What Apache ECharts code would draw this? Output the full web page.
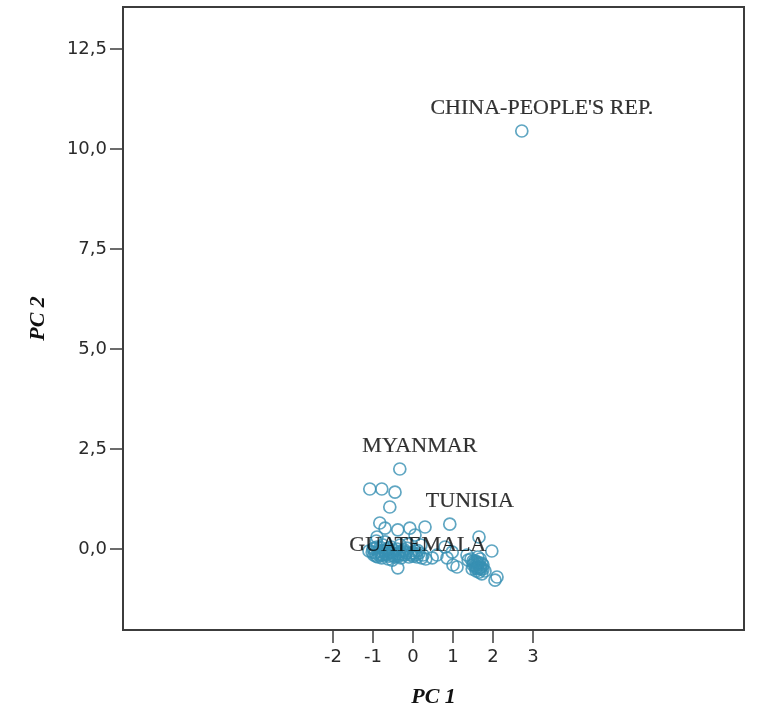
<!DOCTYPE html>
<html>
<head>
<meta charset="utf-8">
<script src="https://cdn.jsdelivr.net/npm/echarts@6/dist/echarts.min.js"></script>
<style>
  html, body { margin: 0; padding: 0; background: #ffffff; }
  #chart { width: 762px; height: 715px; }
</style>
</head>
<body>
<div id="chart"></div>
<script>
// Named countries (drawn with a text label)
const labeledNames = ["CHINA-PEOPLE'S REP.", "MYANMAR", "TUNISIA", "GUATEMALA"];
const labeledPc1 = [2.72, -0.33, 0.92, -0.38];
const labeledPc2 = [10.45, 2.00, 0.62, -0.47];

// Remaining countries: PC 1 / PC 2 scores
const otherPc1 = [
  -1.08, -0.78, -0.45, -0.58,
  -0.83, -0.70, -0.38, -0.08, 0.30, 0.05, -0.90,
  -1.00, -0.95, -0.90, -0.85, -0.80, -0.75, -0.70, -0.65, -0.60, -0.55,
  -0.50, -0.45, -0.40, -0.35, -0.30, -0.25, -0.20, -0.15, -0.10, -0.05,
  0.00, 0.05, 0.10, 0.15, -0.62, -0.78, -0.88, -0.98, -1.10, -0.52,
  -0.32, -0.12, -0.70, -0.92, 0.20, 0.25, 0.32, 0.22, 0.48,
  -1.02, -0.97, -0.92, -0.87, -0.82, -0.77, -0.72, -0.67, -0.62, -0.57,
  -0.52, -0.47, -0.42, -0.37, -0.32, -0.27, -0.22, -0.17, -0.07, 0.02,
  0.08, 0.12, -0.60, -0.80, -0.45, -0.20,
  1.65, 1.97, 0.80, 0.98, 1.35, 0.85, 1.00, 1.10, 1.38, 2.05, 2.10,
  1.45, 1.50, 1.55, 1.60, 1.65, 1.70, 1.75, 1.58, 1.48, 1.68, 1.80, 1.62, 1.72, 0.60,
  1.52, 1.57, 1.62, 1.67, 1.72, 1.55, 1.65, 1.60, 1.70, 1.50, 1.75, 1.63
];
const otherPc2 = [
  1.50, 1.50, 1.42, 1.05,
  0.65, 0.52, 0.48, 0.52, 0.55, 0.35, 0.30,
  0.00, -0.10, 0.05, -0.15, -0.05, 0.10, -0.12, -0.02, -0.18, 0.05,
  -0.10, -0.20, 0.00, -0.12, -0.22, -0.05, -0.15, 0.02, -0.20, -0.10,
  -0.18, -0.05, -0.20, -0.10, -0.25, -0.22, -0.20, -0.15, -0.05, -0.28,
  0.10, 0.12, 0.18, 0.20, 0.10, -0.15, -0.25, -0.22, -0.22,
  -0.08, 0.02, -0.18, -0.06, 0.04, -0.16, -0.04, -0.14, 0.02, -0.08,
  -0.16, -0.04, -0.12, -0.18, -0.06, -0.14, -0.02, -0.10, -0.14, -0.10,
  -0.14, -0.04, -0.10, -0.12, -0.15, -0.08,
  0.30, -0.05, 0.05, -0.08, -0.15, -0.22, -0.40, -0.45, -0.28, -0.78, -0.70,
  -0.25, -0.40, -0.30, -0.45, -0.35, -0.50, -0.40, -0.55, -0.50, -0.25, -0.55, -0.20, -0.62, -0.15,
  -0.35, -0.48, -0.38, -0.48, -0.36, -0.42, -0.58, -0.32, -0.45, -0.30, -0.50, -0.50
];

// Tick positions shown on each axis
const xTicks = [-2, -1, 0, 1, 2, 3];
const yTicks = [0, 2.5, 5, 7.5, 10, 12.5];

const markColor = '#3790b3';
const frameColor = '#3c3c3c';
const otherData = otherPc1.map((v, i) => [v, otherPc2[i]]);
const labeledData = labeledNames.map((n, i) => ({ name: n, value: [labeledPc1[i], labeledPc2[i]] }));

const chart = echarts.init(document.getElementById('chart'), null, { renderer: 'canvas' });

const axisLabelFont = { fontFamily: 'DejaVu Sans', fontSize: 18, color: '#2a2a2a' };
const nameFont = { fontFamily: 'Liberation Serif', fontSize: 22, fontWeight: 'bold', fontStyle: 'italic', color: '#111' };
const edgeLine = { show: true, onZero: false, lineStyle: { color: frameColor, width: 2 } };
const tickStyle = { color: frameColor, width: 1.5 };

chart.setOption({
  animation: false,
  backgroundColor: '#ffffff',
  grid: {
    left: 123, top: 7, right: 18, bottom: 85,
    containLabel: false,
    outerBoundsMode: 'none',
    show: true,
    borderColor: frameColor,
    borderWidth: 2,
    backgroundColor: 'transparent'
  },
  xAxis: {
    type: 'value',
    min: -7.25, max: 8.275,
    name: 'PC 1',
    nameLocation: 'middle',
    nameGap: 56,
    nameTextStyle: nameFont,
    axisLine: edgeLine,
    splitLine: { show: false },
    axisTick: { show: true, customValues: xTicks, length: 13, lineStyle: tickStyle },
    axisLabel: Object.assign({ customValues: xTicks, margin: 18, formatter: v => String(v) }, axisLabelFont)
  },
  yAxis: {
    type: 'value',
    min: -2.025, max: 13.55,
    name: 'PC 2',
    nameLocation: 'middle',
    nameGap: 74,
    nameTextStyle: nameFont,
    axisLine: edgeLine,
    splitLine: { show: false },
    axisTick: { show: true, customValues: yTicks, length: 13, lineStyle: tickStyle },
    axisLabel: Object.assign({ customValues: yTicks, margin: 16, formatter: v => v.toFixed(1).replace('.', ',') }, axisLabelFont)
  },
  series: [
    {
      type: 'scatter',
      data: otherData,
      symbol: 'circle',
      symbolSize: 12,
      itemStyle: { color: 'rgba(255,255,255,0)', borderColor: markColor, borderWidth: 1.7 },
      emphasis: { disabled: true }
    },
    {
      type: 'scatter',
      data: labeledData,
      symbol: 'circle',
      symbolSize: 12,
      itemStyle: { color: 'rgba(255,255,255,0)', borderColor: markColor, borderWidth: 1.7 },
      emphasis: { disabled: true },
      label: {
        show: true,
        formatter: p => p.name,
        position: 'inside',
        offset: [20, -23],
        align: 'center',
        verticalAlign: 'middle',
        fontFamily: 'Liberation Serif',
        fontSize: 22,
        color: '#000',
        textBorderColor: '#000',
        textBorderWidth: 0.2
      },
      z: 3
    }
  ]
});
</script>
</body>
</html>
